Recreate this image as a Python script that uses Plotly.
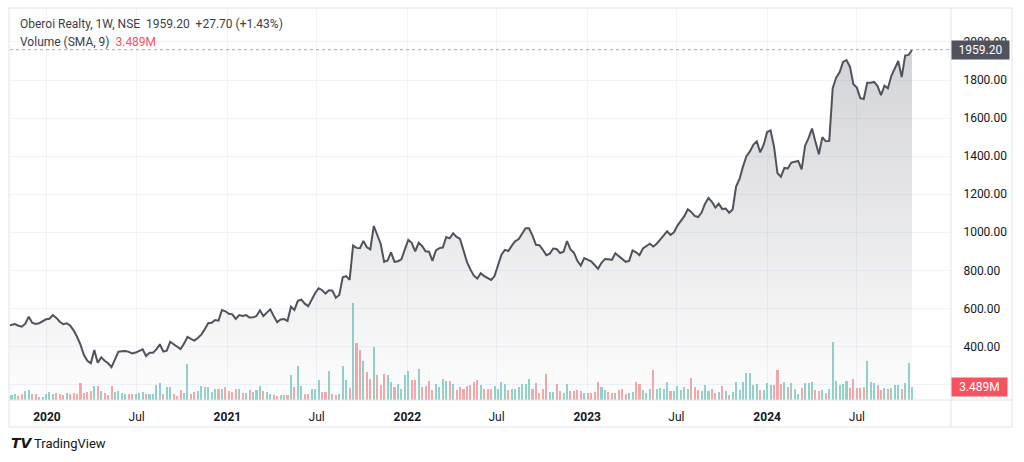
import pandas as pd
import plotly.graph_objects as go

# ---------------- data ----------------
symbol_title = "Oberoi Realty, 1W, NSE"
volume_title = "Volume (SMA, 9)"
first_week = "2019-10-14"

close = [
    509, 515, 518, 509, 504, 520, 556, 525, 518, 522,
    532, 543, 546, 565, 550, 530, 517, 522, 510, 485,
    451, 410, 355, 325, 312, 382, 315, 343, 325, 312,
    291, 329, 373, 375, 376, 372, 364, 368, 376, 385,
    350, 367, 367, 385, 412, 373, 378, 425, 412, 400,
    386, 415, 451, 440, 431, 445, 462, 490, 522, 525,
    539, 536, 592, 585, 572, 569, 545, 565, 560, 565,
    552, 553, 560, 590, 560, 578, 595, 560, 528, 542,
    544, 534, 609, 592, 640, 646, 625, 612, 650, 680,
    706, 697, 678, 695, 693, 656, 671, 764, 770, 750,
    930, 918, 916, 955, 921, 910, 1033, 985, 940, 845,
    852, 895, 845, 848, 858, 910, 960, 945, 900, 945,
    928, 900, 898, 850, 905, 917, 920, 975, 968, 995,
    976, 965, 900, 845, 805, 772, 757, 785, 770, 760,
    750, 770, 830, 882, 908, 902, 930, 953, 965, 995,
    1021, 1021, 983, 934, 932, 908, 880, 888, 915, 912,
    891, 898, 954, 910, 893, 850, 825, 864, 855, 848,
    828, 808, 840, 860, 858, 855, 890, 875, 860, 845,
    850, 905, 895, 880, 915, 930, 940, 925, 940, 962,
    985, 1005, 986, 1000, 1035, 1059, 1085, 1121, 1107, 1086,
    1080, 1104, 1150, 1180, 1160, 1130, 1150, 1122, 1125, 1103,
    1120, 1240, 1280, 1345, 1400, 1425, 1460, 1478, 1420, 1460,
    1527, 1535, 1450, 1310, 1292, 1338, 1335, 1366, 1370, 1375,
    1330, 1455, 1495, 1545, 1475, 1410, 1500, 1478, 1480, 1757,
    1812, 1840, 1895, 1905, 1870, 1778, 1760, 1705, 1700, 1786,
    1786, 1790, 1768, 1720, 1770, 1756, 1822, 1860, 1900, 1815,
    1928, 1931.5, 1959.2,
]

volume_m = [
    1.5, 1.3, 1.56, 1.1, 1.5, 2.4, 2.6, 1.56, 1.7, 0.87,
    0.87, 1.56, 2.1, 1.65, 1.9, 1.5, 1.2, 1.9, 1.7, 1.9,
    1.5, 4.5, 1.9, 2.2, 2.4, 3.6, 3.6, 2.3, 1.9, 1.3,
    3.6, 2.2, 2.4, 1.9, 1.65, 1.56, 1.5, 1.7, 1.9, 2.1,
    1.65, 1.56, 1.56, 3.8, 4.5, 1.7, 3.5, 3.5, 1.56, 1.0,
    2.6, 1.9, 9.4, 1.7, 2.2, 2.4, 3.6, 3.5, 3.5, 2.2,
    2.8, 2.9, 2.8, 3.3, 2.4, 2.1, 3.0, 2.8, 1.9, 1.9,
    2.6, 2.2, 2.6, 3.6, 2.4, 2.2, 1.7, 1.4, 1.0, 1.4,
    1.4, 1.3, 6.5, 3.3, 8.8, 3.7, 1.7, 1.7, 2.8, 3.0,
    5.2, 2.2, 2.2, 7.5, 1.5, 1.3, 1.5, 8.8, 5.2, 3.2,
    25.3, 15.0, 13.2, 10.1, 7.4, 5.5, 14.0, 6.5, 3.9, 6.9,
    6.5, 4.8, 3.3, 4.3, 2.8, 6.5, 7.5, 5.2, 5.2, 8.2,
    3.5, 3.6, 4.9, 2.6, 4.3, 3.5, 5.5, 4.9, 4.9, 4.2,
    2.6, 3.3, 2.9, 3.7, 3.9, 4.8, 5.2, 3.9, 3.0, 2.9,
    3.0, 3.6, 3.0, 4.8, 4.3, 2.6, 3.0, 2.8, 3.3, 4.2,
    4.2, 5.4, 3.0, 4.5, 1.9, 3.0, 6.9, 2.2, 2.2, 4.3,
    2.4, 1.9, 4.3, 2.3, 2.3, 2.6, 2.4, 1.9, 1.9, 1.9,
    2.1, 4.7, 3.5, 2.6, 2.0, 1.9, 1.9, 2.6, 2.8, 1.6,
    1.9, 2.2, 4.8, 4.2, 2.6, 1.9, 2.9, 7.9, 2.9, 3.1,
    2.9, 4.8, 2.4, 2.4, 3.7, 2.6, 3.5, 2.9, 5.7, 3.5,
    2.6, 2.4, 3.9, 2.4, 2.8, 1.9, 2.2, 3.7, 2.4, 1.3,
    2.2, 4.8, 2.6, 4.8, 7.2, 7.2, 3.9, 4.2, 2.6, 2.6,
    4.5, 3.9, 3.9, 7.9, 4.2, 4.7, 3.5, 4.4, 2.8, 1.7,
    3.2, 4.4, 4.4, 4.8, 2.6, 2.4, 2.6, 1.9, 2.8, 15.1,
    5.1, 3.9, 4.2, 5.1, 3.1, 5.5, 3.1, 3.2, 3.5, 10.2,
    4.6, 4.4, 3.8, 2.6, 3.1, 2.9, 3.1, 3.9, 3.9, 2.9,
    4.5, 9.8, 3.489,
]

time_ticks = ["2020-01-01", "2020-07-01", "2021-01-01", "2021-07-01", "2022-01-01",
              "2022-07-01", "2023-01-01", "2023-07-01", "2024-01-01", "2024-07-01"]
time_tick_text = ["<b>2020</b>", "Jul", "<b>2021</b>", "Jul", "<b>2022</b>",
                  "Jul", "<b>2023</b>", "Jul", "<b>2024</b>", "Jul"]
price_ticks = [200, 400, 600, 800, 1000, 1200, 1400, 1600, 1800, 2000]
price_tick_text = ["", "400.00", "600.00", "800.00", "1000.00", "1200.00",
                   "1400.00", "1600.00", "1800.00", "2000.00"]

# ---------------- derived ----------------
dates = pd.date_range(first_week, periods=len(close), freq="7D")
up_col, down_col = "#92d3ca", "#f7a8ab"
bar_colors = [down_col] + [up_col if close[i] >= close[i - 1] else down_col
                           for i in range(1, len(close))]
last = close[-1]
chg = close[-1] - close[-2]
pct = chg / close[-2] * 100

FONT = "Roboto, 'Open Sans', sans-serif"
TXT = "#131722"
GRID = "#f0f3fa"
BORDER = "#e0e3eb"

fig = go.Figure()
fig.add_trace(go.Bar(
    x=dates, y=volume_m, yaxis="y", marker=dict(color=bar_colors, line=dict(width=0)),
    width=4.2 * 86400000, hoverinfo="skip",
))
fig.add_trace(go.Scatter(
    x=dates, y=close, yaxis="y2", mode="lines",
    line=dict(color="#50535e", width=2),
    fill="tozeroy",
    fillgradient=dict(type="vertical", start=119, stop=max(close),
                      colorscale=[[0, "rgba(93,96,107,0.01)"], [1, "rgba(93,96,107,0.27)"]]),
    hoverinfo="skip",
))

W, H = 1024, 462
L, R, T, B = 10, 951, 9, 400   # plot area in pixels


def px(xp):
    return (xp - L) / (R - L)


def py(yp):
    return (B - yp) / (B - T)


fig.update_layout(
    width=W, height=H,
    margin=dict(l=L, r=W - R, t=T, b=H - B),
    paper_bgcolor="white", plot_bgcolor="white",
    showlegend=False, hovermode=False, bargap=0,
    font=dict(family=FONT, color=TXT, size=12),
    xaxis=dict(
        type="date", range=["2019-10-18", "2025-01-08"],
        tickvals=time_ticks, ticktext=time_tick_text,
        showgrid=True, gridcolor=GRID, gridwidth=1, zeroline=False,
        showline=False, ticks="outside", ticklen=6, tickcolor="rgba(0,0,0,0)",
        tickfont=dict(size=12, color=TXT, family=FONT),
    ),
    yaxis=dict(range=[0, 102.4], visible=False, showgrid=False, zeroline=False),
    yaxis2=dict(
        overlaying="y", side="right", range=[119, 2173],
        tickvals=price_ticks, ticktext=price_tick_text,
        showgrid=True, gridcolor=GRID, gridwidth=1, zeroline=False, showline=False,
        ticks="outside", ticklen=9, tickcolor="rgba(0,0,0,0)",
        tickfont=dict(size=12, color=TXT, family=FONT),
    ),
)

shapes = [
    dict(type="rect", xref="paper", yref="paper", x0=px(9), x1=px(1012), y0=py(427), y1=py(8),
         line=dict(color=BORDER, width=1), layer="above"),
    dict(type="line", xref="paper", yref="paper", x0=px(9), x1=px(1012), y0=0, y1=0,
         line=dict(color=BORDER, width=1), layer="above"),
    dict(type="line", xref="paper", yref="paper", x0=1, x1=1, y0=py(427), y1=py(8),
         line=dict(color=BORDER, width=1), layer="above"),
    dict(type="line", xref="paper", yref="y2", x0=0, x1=1, y0=last, y1=last,
         line=dict(color="#a3a6af", width=1, dash="dot"), layer="above"),
]
fig.update_layout(shapes=shapes)

ann = [
    dict(xref="paper", yref="paper", x=px(18), y=py(24), xanchor="left", yanchor="middle",
         text=f"{symbol_title}&nbsp;&nbsp;{last:.2f}&nbsp;&nbsp;{chg:+.2f} ({pct:+.2f}%)",
         showarrow=False, font=dict(size=12, color="#3b3e47", family=FONT)),
    dict(xref="paper", yref="paper", x=px(18), y=py(42), xanchor="left", yanchor="middle",
         text=f"{volume_title}&nbsp;&nbsp;<span style='color:#f7525f'>{volume_m[-1]:.3f}M</span>",
         showarrow=False, font=dict(size=12, color="#3b3e47", family=FONT)),
    dict(xref="paper", yref="y2", x=1, y=last, xanchor="left", yanchor="middle",
         text=f"{last:.2f}", showarrow=False, bgcolor="#50535e", borderpad=2, width=53,
         font=dict(size=12, color="white", family=FONT)),
    dict(xref="paper", yref="y", x=1, y=volume_m[-1], xanchor="left", yanchor="middle",
         text=f"{volume_m[-1]:.3f}M", showarrow=False, bgcolor="#f7525f", borderpad=2, width=51,
         font=dict(size=12, color="white", family=FONT)),
    dict(xref="paper", yref="paper", x=px(9), y=py(443), xanchor="left", yanchor="middle",
         text="<b><i>TV</i></b>", showarrow=False, font=dict(size=14, color=TXT, family="DejaVu Sans")),
    dict(xref="paper", yref="paper", x=px(32), y=py(443), xanchor="left", yanchor="middle",
         text="TradingView", showarrow=False, font=dict(size=13, color=TXT, family=FONT)),
]
fig.update_layout(annotations=ann)

fig.write_html("out.html")
